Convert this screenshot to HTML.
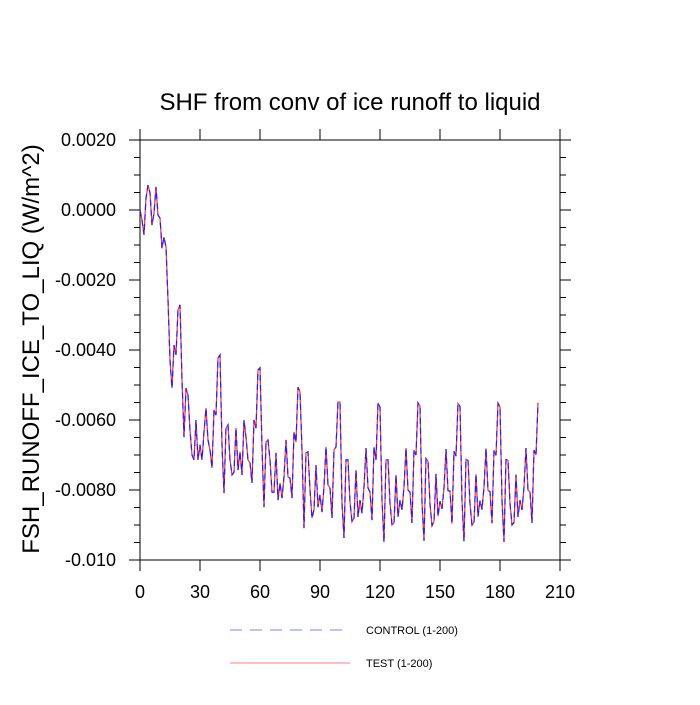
<!DOCTYPE html>
<html><head><meta charset="utf-8"><style>
body{margin:0;background:#fff;}
svg text{font-family:"Liberation Sans",sans-serif;}
</style></head><body>
<svg id="chart" width="700" height="700" xmlns="http://www.w3.org/2000/svg">
<text x="350" y="110" font-size="24" text-anchor="middle">SHF from conv of ice runoff to liquid</text>
<text transform="translate(39,349) rotate(-90)" font-size="24" text-anchor="middle">FSH_RUNOFF_ICE_TO_LIQ  (W/m^2)</text>
<g id="axes"></g>
<g id="series"></g>
<g>
<line x1="230" y1="630" x2="350" y2="630" stroke="#8080ff" stroke-width="1" stroke-dasharray="12,8"/>
<text x="366" y="634" font-size="11">CONTROL (1-200)</text>
<line x1="230" y1="663" x2="350" y2="663" stroke="#ff8080" stroke-width="1"/>
<text x="366" y="667" font-size="11">TEST (1-200)</text>
</g>
</svg>
<script>
const xTicks=[0,30,60,90,120,150,180,210];
const yTicks=[0.002,0,-0.002,-0.004,-0.006,-0.008,-0.010];
const yTickLabels=["0.0020","0.0000","-0.0020","-0.0040","-0.0060","-0.0080","-0.010"];
const base=[0,-2.9,-7.1,3.4,7.1,4.9,-4.3,-0.9,6.6,-1.4,-2.3,-10.9,-7.7,-10.6,-25.7,-42.9,-50.9,-38.6,-41.4,-28.6,-27.1,-48.6,-64.9,-50.9,-52.9,-62.9,-70,-71.4,-60,-71.4,-67.1,-71.4,-63.4,-56.6,-65.7,-68.6,-73.7,-57.1,-58.6,-42.3,-41.4,-67.1,-80.9,-62.3,-61.4,-71.4,-75.7,-74.9,-62.3,-74.3,-69.1,-75.7,-60,-64.9,-71.4,-72.3,-78,-60,-62.3,-45.7,-45.1,-67.7,-84.9,-66.3,-65.7,-71.4,-80.6,-80.6,
-69.4,-82.9,-78,-82.3,-76.3,-65.7,-76.3,-76.6,-82.3,-63.4,-66.3,-50.6,-52,-68.6,-90.9,-69.4,-69.1,-80,-88,-85.7,-72.9,-84.9,-81.4,-86.3,-79.1,-67.7,-78.6,-79.4,-88,-68.6,-67.7,-54.9,-54.9,-83.7,-93.7,-71.4,-71.4,-83.4,-89.1,-88,-74.3,-87.7,-82.9,-86.6,-79.1,-68,-79.4,-80.6,-88.6,-67.7,-71.4,-55.1,
-56.3,-82.9,-94.9,-71.4,-71.4,-83.7,-90,-89.4,-75.7,-87.7,-82.9,-85.7,-79.1,-68,-80,-80.6,-89.4,-68.6,-70,-55.1,
-56.0,-83.5,-94.5,-71.0,-71.8,-84.0,-90.2,-89.0,-75.4,-87.5,-83.2,-85.4,-79.4,-68.3,-80.2,-80.3,-89.6,-68.9,-70.3,-55.3,
-56.1,-83.1,-94.7,-71.2,-71.6,-83.9,-90.1,-89.2,-75.5,-87.6,-83.0,-85.6,-79.2,-68.1,-80.1,-80.5,-89.5,-68.7,-70.1,-55.2,
-56.2,-83.0,-94.8,-71.3,-71.5,-83.8,-90.0,-89.3,-75.6,-87.7,-82.9,-85.7,-79.1,-68.0,-80.0,-80.6,-89.4,-68.6,-70.0,-55.1];
const controlValues=base.map(v=>v*1e-4);
const testValues=base.map(v=>v*1e-4);
const NS="http://www.w3.org/2000/svg";
const L=140,R=560,T=140,B=560;
const xs=v=>L+(v-0)/(210-0)*(R-L);
const ys=v=>T+(0.002-v)/(0.012)*(B-T);
function mk(tag,attrs,parent){const e=document.createElementNS(NS,tag);for(const k in attrs)e.setAttribute(k,attrs[k]);parent.appendChild(e);return e;}
const ax=document.getElementById('axes');
const frame=mk('rect',{x:L,y:T,width:R-L,height:B-T,fill:'none',stroke:'#000','stroke-width':1},ax);


xTicks.forEach(t=>{const x=xs(t);
 const a=mk('line',{x1:x,y1:B,x2:x,y2:B+11,stroke:'#000'},ax);
 
 
 const b=mk('line',{x1:x,y1:T,x2:x,y2:T-11,stroke:'#000'},ax);
 
 
 const tx=mk('text',{x:x,y:598,'font-size':18,'text-anchor':'middle'},ax);tx.textContent=t;
 
 
});
for(let v=0.002;v>=-0.01-1e-9;v-=0.0005){const y=ys(v);
 const major=Math.abs(Math.round(v/0.002)*0.002-v)<1e-9;const len=major?11:6;
 const a=mk('line',{x1:L,y1:y,x2:L-len,y2:y,stroke:'#000'},ax);
 
 
 const b=mk('line',{x1:R,y1:y,x2:R+len,y2:y,stroke:'#000'},ax);
 
 
}
yTicks.forEach((t,i)=>{const tx=mk('text',{x:116,y:ys(t)+6,'font-size':18,'text-anchor':'end'},ax);tx.textContent=yTickLabels[i];
 
 
});
const sg=document.getElementById('series');
const pts=arr=>arr.map((v,i)=>xs(i)+','+ys(v)).join(' ');
const t=mk('polyline',{points:pts(testValues),fill:'none',stroke:'#ff3030','stroke-width':1.2},sg);


const c=mk('polyline',{points:pts(controlValues),fill:'none',stroke:'#2020ff','stroke-width':1.2,'stroke-dasharray':'6,4'},sg);


</script>
</body></html>
